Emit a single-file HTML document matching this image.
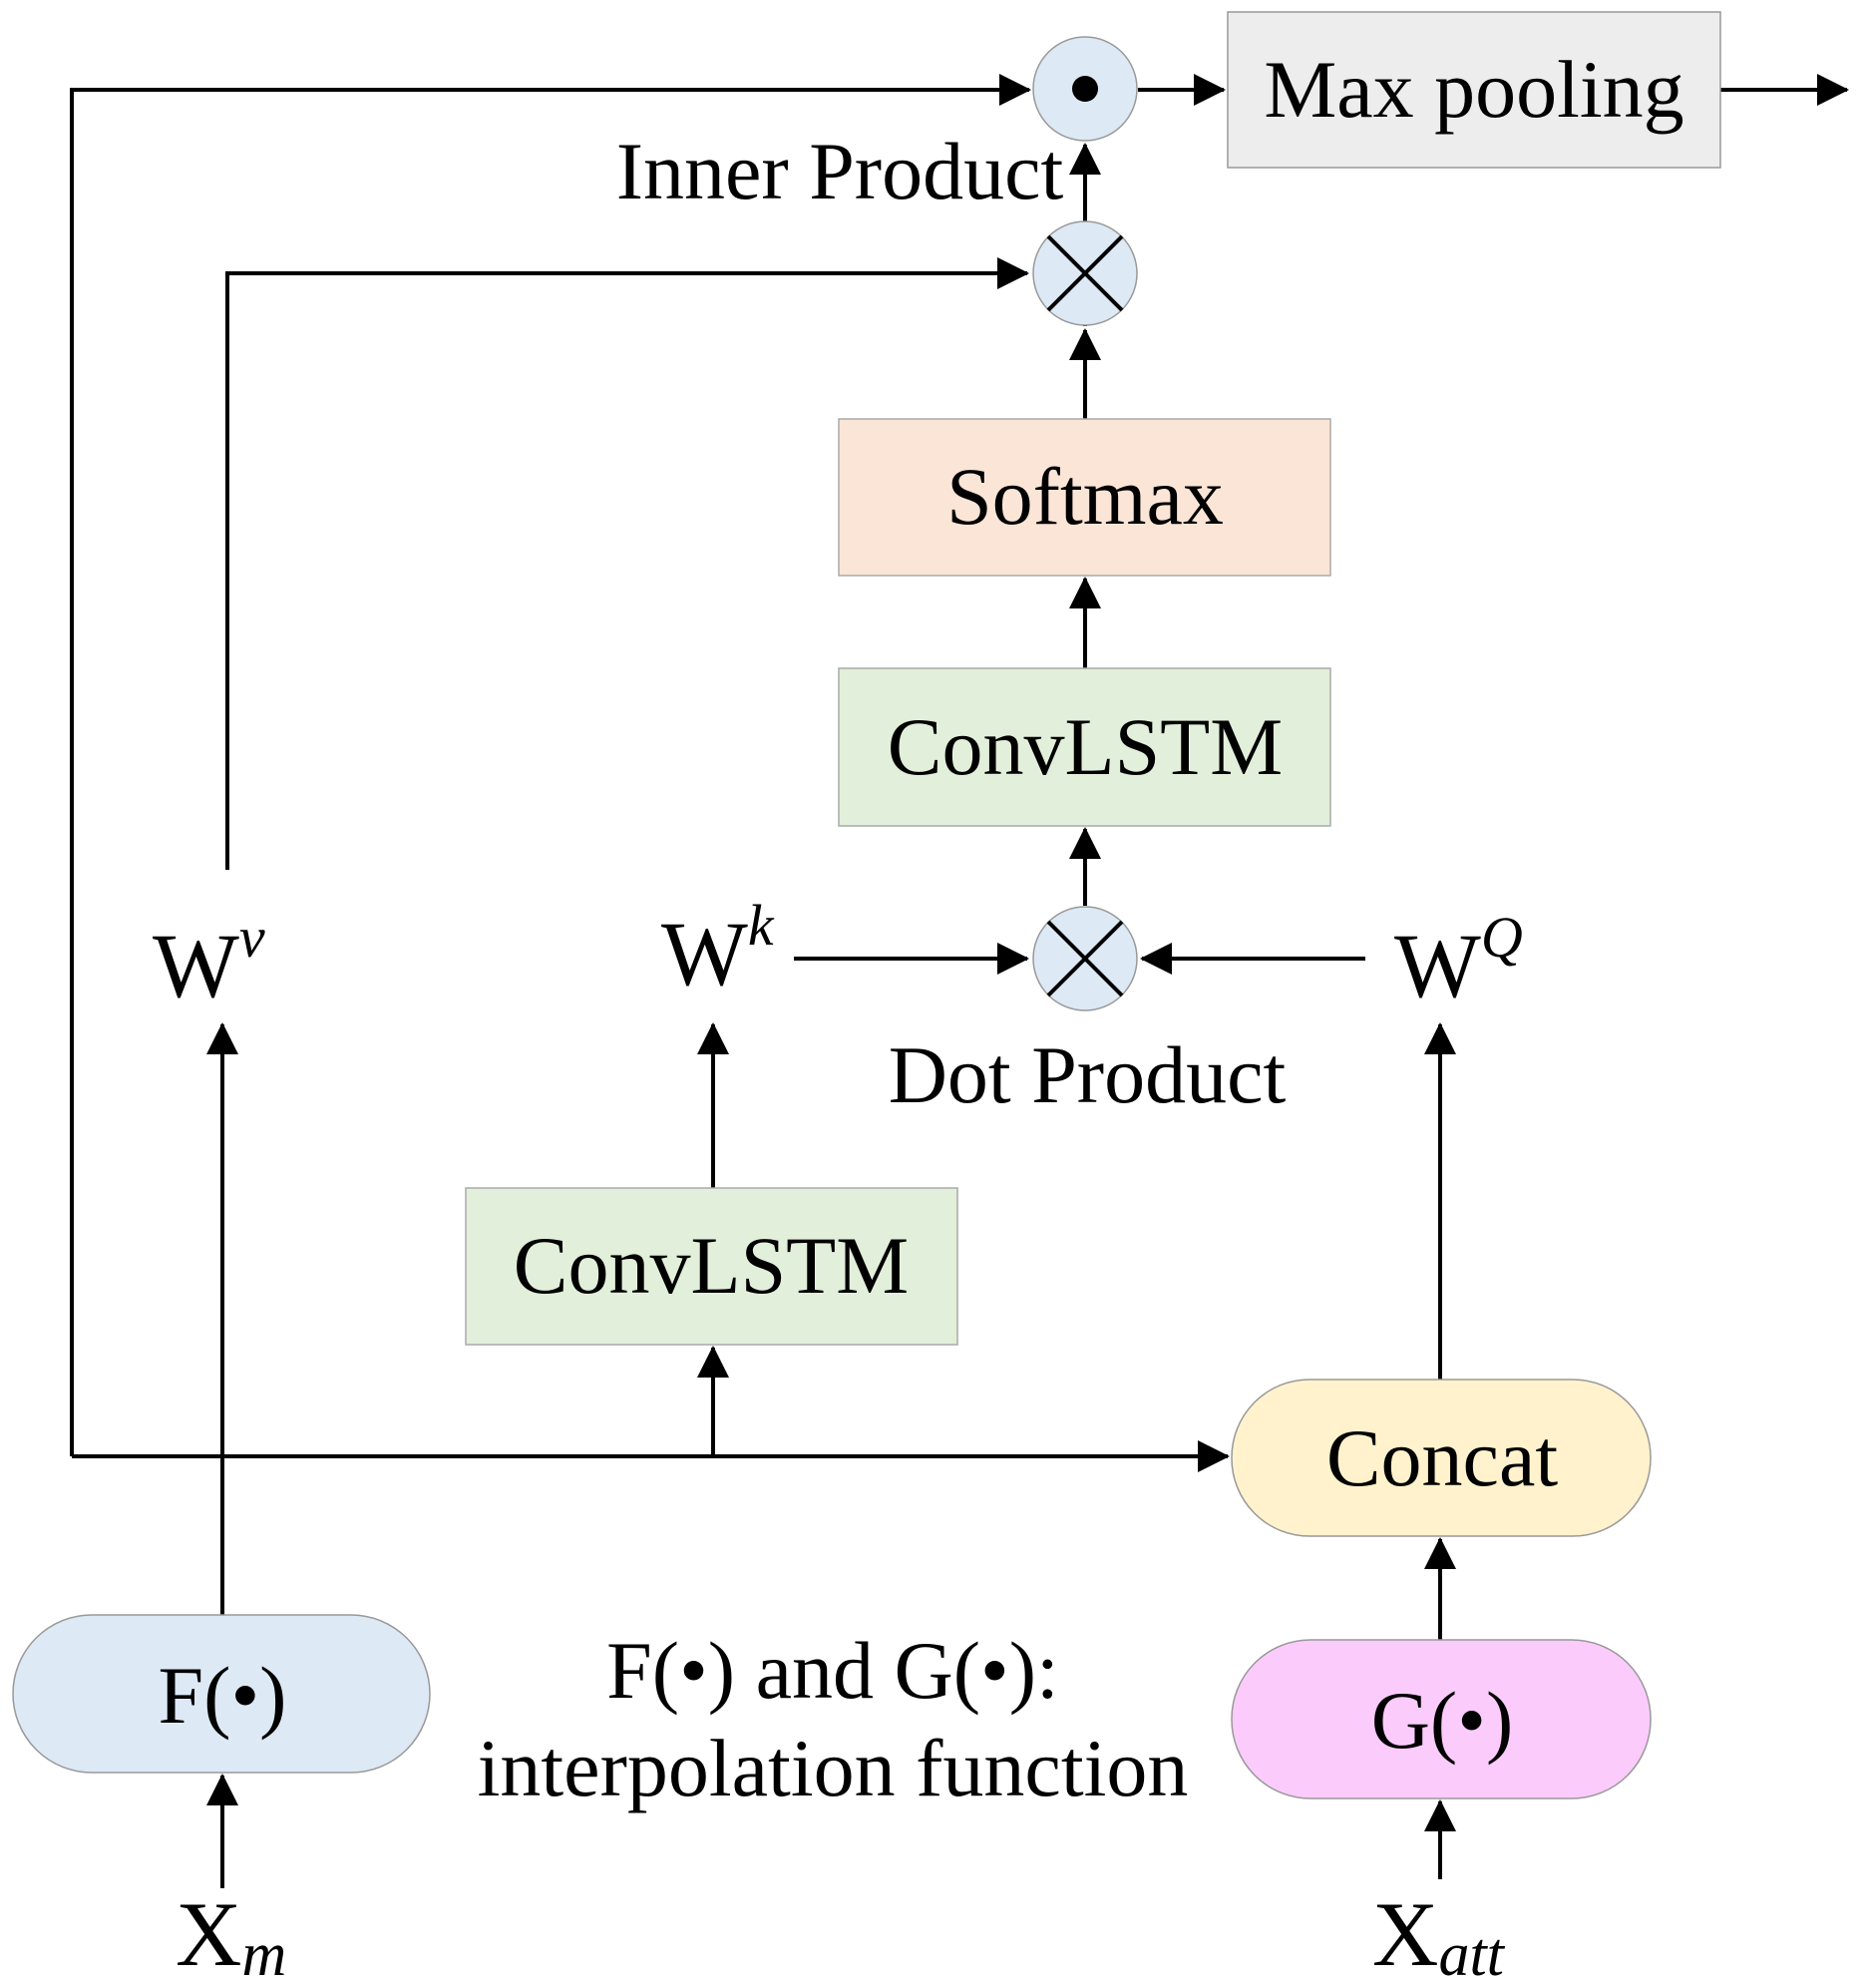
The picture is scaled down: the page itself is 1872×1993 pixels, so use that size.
<!DOCTYPE html>
<html><head><meta charset="utf-8"><style>
html,body{margin:0;padding:0;background:#fff;}
svg text{font-family:"Liberation Serif",serif;fill:#000;}
</style></head><body>
<svg width="1872" height="1988" viewBox="0 0 1872 1988" xmlns="http://www.w3.org/2000/svg">
<defs>
<marker id="a" markerWidth="8" markerHeight="8" refX="7.5" refY="4" orient="auto" markerUnits="strokeWidth">
<path d="M0,0 L8,4 L0,8 Z" fill="#000"/>
</marker>
</defs>
<g transform="translate(-4,-3)">
<g stroke="#000" stroke-width="4" fill="none">
<polyline points="76,1463 76,93 1036,93" marker-end="url(#a)"/>
<line x1="1145" y1="93" x2="1231" y2="93" marker-end="url(#a)"/>
<line x1="1729" y1="93" x2="1856" y2="93" marker-end="url(#a)"/>
<polyline points="232,875 232,277 1034,277" marker-end="url(#a)"/>
<line x1="1092" y1="330" x2="1092" y2="148" marker-end="url(#a)"/>
<line x1="1092" y1="423" x2="1092" y2="334" marker-end="url(#a)"/>
<line x1="1092" y1="673" x2="1092" y2="583" marker-end="url(#a)"/>
<line x1="1092" y1="911" x2="1092" y2="834" marker-end="url(#a)"/>
<line x1="800" y1="964" x2="1034" y2="964" marker-end="url(#a)"/>
<line x1="1373" y1="964" x2="1149" y2="964" marker-end="url(#a)"/>
<line x1="227" y1="1622" x2="227" y2="1030" marker-end="url(#a)"/>
<line x1="719" y1="1194" x2="719" y2="1030" marker-end="url(#a)"/>
<line x1="76" y1="1463" x2="1235" y2="1463" marker-end="url(#a)"/>
<line x1="719" y1="1463" x2="719" y2="1354" marker-end="url(#a)"/>
<line x1="1448" y1="1386" x2="1448" y2="1030" marker-end="url(#a)"/>
<line x1="1448" y1="1647" x2="1448" y2="1546" marker-end="url(#a)"/>
<line x1="1448" y1="1887" x2="1448" y2="1809" marker-end="url(#a)"/>
<line x1="227" y1="1896" x2="227" y2="1783" marker-end="url(#a)"/>
</g>
<rect x="1235" y="15" width="494" height="156" fill="#ededed" stroke="#999" stroke-width="1.5"/>
<rect x="845" y="423" width="493" height="157" fill="#fbe5d6" stroke="#aaa" stroke-width="1.5"/>
<rect x="845" y="673" width="493" height="158" fill="#e2efda" stroke="#aaa" stroke-width="1.5"/>
<rect x="471" y="1194" width="493" height="157" fill="#e2efda" stroke="#aaa" stroke-width="1.5"/>
<rect x="1239" y="1386" width="420" height="157" rx="78" fill="#fff2cc" stroke="#999" stroke-width="1.5"/>
<rect x="1239" y="1647" width="420" height="159" rx="79" fill="#fbcbfb" stroke="#999" stroke-width="1.5"/>
<rect x="17" y="1622" width="418" height="158" rx="79" fill="#dde9f5" stroke="#999" stroke-width="1.5"/>
<circle cx="1092" cy="92" r="52" fill="#dde9f5" stroke="#999" stroke-width="1.5"/>
<circle cx="1092" cy="92" r="13" fill="#000"/>
<circle cx="1092" cy="277" r="52" fill="#dde9f5" stroke="#999" stroke-width="1.5"/>
<path d="M1055,240 L1129,314 M1129,240 L1055,314" stroke="#000" stroke-width="4"/>
<circle cx="1092" cy="964" r="52" fill="#dde9f5" stroke="#999" stroke-width="1.5"/>
<path d="M1055,927 L1129,1001 M1129,927 L1055,1001" stroke="#000" stroke-width="4"/>
<g font-size="82" text-anchor="middle">
<text x="1482" y="120">Max pooling</text>
<text x="846" y="202">Inner Product</text>
<text x="1092" y="528">Softmax</text>
<text x="1092" y="779">ConvLSTM</text>
<text x="717" y="1299">ConvLSTM</text>
<text x="1094" y="1108">Dot Product</text>
<text x="1450" y="1492">Concat</text>
<text x="1450" y="1755">G(•)</text>
<text x="227" y="1730">F(•)</text>
<text x="839" y="1705">F(•) and G(•):</text>
<text x="839" y="1803">interpolation function</text>
</g>
<g font-size="92">
<text x="157" y="1002">W<tspan font-size="58" font-style="italic" dy="-40">v</tspan></text>
<text x="667" y="990">W<tspan font-size="58" font-style="italic" dy="-40">k</tspan></text>
<text x="1402" y="1002">W<tspan font-size="58" font-style="italic" dy="-40">Q</tspan></text>
<text x="180" y="1973">X<tspan font-size="62" font-style="italic" dy="10">m</tspan></text>
<text x="1380" y="1973">X<tspan font-size="62" font-style="italic" dy="10">att</tspan></text>
</g>
</g>
</svg>
</body></html>
